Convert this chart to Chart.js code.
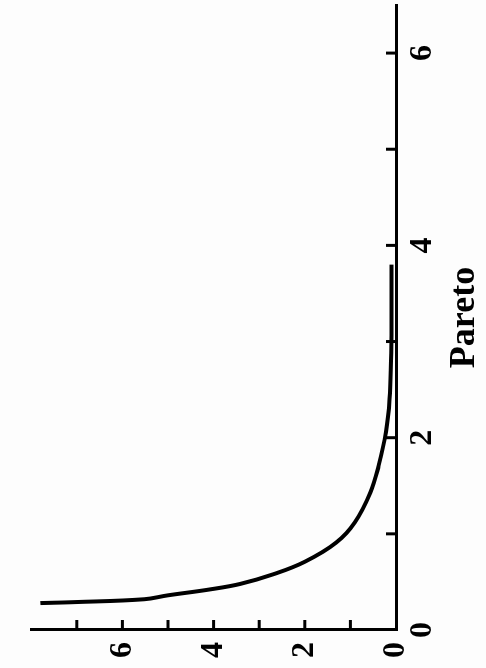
<!DOCTYPE html>
<html>
<head>
<meta charset="utf-8">
<script src="https://cdn.jsdelivr.net/npm/chart.js@4/dist/chart.umd.min.js"></script>
<style>
  html, body { margin: 0; padding: 0; background: #fdfdfd; overflow: hidden; }
  #wrap {
    position: absolute; left: 0; top: 0;
    width: 668px; height: 486px;
    transform-origin: 0 0;
    transform: translateY(668px) rotate(-90deg);
  }
</style>
</head>
<body>
<div id="wrap"><canvas id="chart" width="668" height="486"></canvas></div>
<script>
const xValues = [0.28, 0.29, 0.32, 0.36, 0.42, 0.48, 0.58, 0.71, 0.91, 1.12, 1.43, 1.71, 2.06, 2.40, 2.80, 3.20, 3.80];
const yValues = [7.80, 7.05, 5.52, 5.01, 4.11, 3.41, 2.69, 2.00, 1.31, 0.90, 0.56, 0.38, 0.22, 0.14, 0.11, 0.10, 0.10];
const xTicks = [0, 1, 2, 3, 4, 5, 6];
const yTicks = [0, 1, 2, 3, 4, 5, 6, 7];
const xLabels = [0, 2, 4, 6];
const yLabels = [0, 2, 4, 6];

const serif = '"Liberation Serif", "DejaVu Serif", serif';

const points = xValues.map((x, i) => ({ x, y: yValues[i] }));

// short tick marks pointing into the plot
const innerTicks = {
  id: 'innerTicks',
  afterDraw(chart) {
    const { ctx, chartArea, scales } = chart;
    ctx.save();
    ctx.strokeStyle = '#000';
    ctx.lineWidth = 3;
    scales.x.ticks.forEach((t) => {
      if (t.value === 0) return;
      const px = scales.x.getPixelForValue(t.value);
      ctx.beginPath();
      ctx.moveTo(px, chartArea.bottom);
      ctx.lineTo(px, chartArea.bottom - 10);
      ctx.stroke();
    });
    scales.y.ticks.forEach((t) => {
      if (t.value === 0) return;
      const py = scales.y.getPixelForValue(t.value);
      ctx.beginPath();
      ctx.moveTo(chartArea.left, py);
      ctx.lineTo(chartArea.left + 10, py);
      ctx.stroke();
    });
    ctx.restore();
  },
};

new Chart(document.getElementById('chart'), {
  type: 'scatter',
  data: {
    datasets: [{
      data: points,
      showLine: true,
      borderColor: '#000',
      borderWidth: 4,
      pointRadius: 0,
      tension: 0.4,
      clip: false,
    }],
  },
  options: {
    responsive: false,
    animation: false,
    devicePixelRatio: 1,
    layout: { padding: { top: 8, right: 5, left: 0, bottom: 0 } },
    plugins: { legend: { display: false }, tooltip: { enabled: false } },
    scales: {
      x: {
        type: 'linear',
        min: 0,
        max: 6.5,
        ticks: {
          autoSkip: false,
          maxRotation: 0,
          color: '#000',
          padding: 8,
          font: { family: serif, size: 32, weight: 'bold' },
          callback: (v) => (xLabels.includes(v) ? String(v) : ''),
        },
        afterBuildTicks: (s) => { s.ticks = xTicks.map((value) => ({ value })); },
        afterFit: (s) => { s.height = 90; },
        grid: { display: false, drawTicks: false },
        border: { display: true, color: '#000', width: 3 },
        title: {
          display: true,
          text: 'Pareto',
          color: '#000',
          padding: { top: 2, bottom: 0 },
          font: { family: serif, size: 36, weight: 'bold' },
        },
      },
      y: {
        type: 'linear',
        min: 0,
        max: 8,
        ticks: {
          autoSkip: false,
          color: '#000',
          padding: 12,
          font: { family: serif, size: 32, weight: 'bold' },
          callback: (v) => (yLabels.includes(v) ? String(v) : ''),
        },
        afterBuildTicks: (s) => { s.ticks = yTicks.map((value) => ({ value })); },
        afterFit: (s) => { s.width = 38; },
        grid: { display: false, drawTicks: false },
        border: { display: true, color: '#000', width: 3 },
      },
    },
  },
  plugins: [innerTicks],
});
</script>
</body>
</html>
